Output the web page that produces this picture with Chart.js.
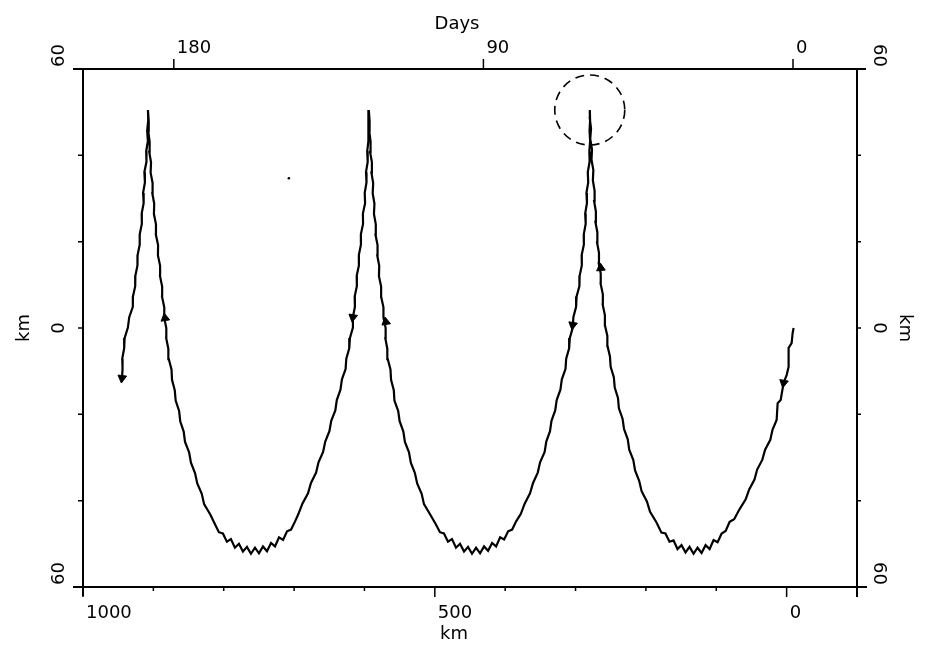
<!DOCTYPE html>
<html>
<head>
<meta charset="utf-8">
<script src="https://cdn.jsdelivr.net/npm/chart.js@4.4.1/dist/chart.umd.min.js"></script>
<style>
  html, body { margin: 0; padding: 0; background: #fff; }
</style>
</head>
<body>
<canvas id="track" width="925" height="649"></canvas>
<script>
// float track, x = km (plotted right to left), y = km
// leg A: start -> first crest
var legAX = [-9.9, -8.5, -7.1, -2.8, -2.8, 0, 4.3, 8.5, 12.8, 14.2, 20.1, 23.2, 30.6, 34.5, 41.9, 45.7, 53.2, 58.2, 67.0, 74.6,
  81, 86.7, 92.4, 98.1, 103.8, 109.5, 115.2, 120.9, 126.6, 132.3, 138, 143.7, 149.4, 155.1, 160.8, 166.5, 172.2, 177.9,
  185.1, 194.1, 198.6, 206.1, 209.6, 215.4, 217.9, 223.7, 225.8, 231.1, 233.2, 238.4, 239.7, 244.3, 245.6, 250.1, 251.1, 254.5, 254.8, 258.2,
  258.3, 261.4, 261.2, 264.3, 264.2, 267.1, 266.7, 269.4, 269.0, 271.8, 271.1, 273.6, 272.9, 275.4, 274.7, 277.3, 276.6, 279.1, 278.0, 279.8, 279.7];
var legAY = [0, -1.2, -3.5, -4.6, -9.0, -10.9, -12.7, -16.7, -17.4, -21.3, -23.6, -25.9, -28.2, -30.5, -32.8, -35.1, -37.4, -39.7, -42.0, -44.3,
  -44.9, -47.0, -47.6, -49.6, -49.1, -51.2, -50.3, -52.1, -50.9, -52.3, -50.7, -52.0, -50.3, -51.2, -49.2, -49.5, -47.6, -47.4,
  -45.0, -42.6, -40.2, -37.8, -35.4, -33.0, -30.6, -28.2, -25.8, -23.4, -21.0, -18.6, -16.2, -13.8, -11.4, -9.0, -6.6, -4.2, -1.8, 0.6,
  3.0, 5.4, 7.8, 10.2, 12.6, 15.0, 17.4, 19.8, 22.2, 24.6, 27.0, 29.4, 31.8, 34.2, 36.6, 39.0, 41.4, 43.8, 46.2, 48.6, 50.5];

// leg B: first crest -> second crest
var legBX = [279.3, 280.1, 279.3, 280.4, 280.0, 282.6, 282.0, 284.5, 283.8, 286.3, 285.6, 288.3, 288.2, 291.3, 291.1, 294.2, 294.5, 298.5, 299.2, 303.1,
  303.9, 308.1, 309.1, 313.3, 314.3, 319.5, 321.5, 326.8, 328.9, 334.2, 336.3, 341.6, 343.9, 350.4, 353.7, 360.4, 364.7, 372.3, 377.9,
  384.4, 390.1, 395.8, 401.5, 407.2, 412.9, 418.6, 424.3, 430.0, 435.7, 441.4, 447.1, 452.8, 458.5, 464.2, 469.9, 475.6, 481.3, 487.0, 492.7, 498.4,
  506.6, 515.4, 518.7, 525.1, 528.3, 534.1, 536.7, 542.5, 544.7, 550.0, 552.1, 557.4, 558.3, 562.2, 563.0, 566.9, 567.5, 570.3, 569.9, 573.0,
  573.0, 576.2, 576.3, 579.4, 579.0, 581.8, 581.4, 584.3, 583.9, 586.5, 585.8, 588.3, 587.6, 590.1, 589.4, 592.0, 591.3, 593.2, 592.7, 593.8];
var legBY = [48.1, 45.7, 43.3, 40.9, 38.5, 36.1, 33.7, 31.3, 28.9, 26.5, 24.1, 21.7, 19.3, 16.9, 14.5, 12.1, 9.7, 7.3, 4.9, 2.5,
  0.1, -2.3, -4.7, -7.1, -9.5, -11.9, -14.3, -16.7, -19.1, -21.5, -23.9, -26.3, -28.7, -31.1, -33.5, -35.9, -38.3, -40.7, -43.1,
  -44.8, -46.7, -47.1, -49.0, -48.5, -50.6, -49.8, -51.6, -50.6, -52.2, -50.9, -52.3, -50.7, -51.8, -50.0, -50.9, -48.9, -49.5, -47.6, -47.3, -45.5,
  -43.2, -40.8, -38.4, -36.0, -33.6, -31.2, -28.8, -26.4, -24.0, -21.6, -19.2, -16.8, -14.4, -12.0, -9.6, -7.2, -4.8, -2.4, 0.0, 2.4,
  4.8, 7.2, 9.6, 12.0, 14.4, 16.8, 19.2, 21.6, 24.0, 26.4, 28.8, 31.2, 33.6, 36.0, 38.4, 40.8, 43.2, 45.6, 48.0, 50.5];

// leg C: second crest -> third crest
var legCX = [593.8, 594.9, 594.5, 596.1, 595.4, 597.8, 597.1, 599.6, 599.1, 602.2, 602.0, 605.1, 605.0, 608.0, 607.9, 611.0, 610.8, 613.9, 613.6, 616.4,
  616.4, 620.6, 621.6, 625.8, 626.8, 632.0, 634.1, 639.3, 641.4, 647.2, 649.8, 655.7, 658.8, 665.3, 668.7, 676.0, 680.2, 688.2, 693.9,
  698.6, 704.3, 710.0, 715.7, 721.4, 727.1, 732.8, 738.5, 744.2, 749.9, 755.6, 761.3, 767.0, 772.7, 778.4, 784.1, 789.8, 795.5, 801.2, 806.9, 812.6,
  819.1, 827.9, 831.2, 837.6, 840.8, 846.6, 849.2, 855.0, 856.9, 861.8, 863.4, 868.3, 869.6, 873.5, 874.2, 878.1, 878.7, 881.7, 881.6, 884.6,
  884.5, 887.6, 887.5, 890.5, 890.4, 893.5, 893.3, 896.4, 896.3, 899.2, 898.8, 901.5, 901.1, 903.9, 903.3, 905.9, 905.3, 907.3, 906.6, 907.7];
var legCY = [48.1, 45.7, 43.3, 40.9, 38.5, 36.1, 33.7, 31.3, 28.9, 26.5, 24.1, 21.7, 19.3, 16.9, 14.5, 12.1, 9.7, 7.3, 4.9, 2.5,
  0.1, -2.3, -4.7, -7.1, -9.5, -11.9, -14.3, -16.7, -19.1, -21.5, -23.9, -26.3, -28.7, -31.1, -33.5, -35.9, -38.3, -40.7, -43.1,
  -44.8, -46.7, -47.1, -49.1, -48.5, -50.6, -49.8, -51.7, -50.6, -52.2, -50.9, -52.3, -50.7, -51.8, -50.0, -50.9, -48.9, -49.5, -47.6, -47.3, -45.4,
  -43.2, -40.8, -38.4, -36.0, -33.6, -31.2, -28.8, -26.4, -24.0, -21.6, -19.2, -16.8, -14.4, -12.0, -9.6, -7.2, -4.8, -2.4, 0.0, 2.4,
  4.8, 7.2, 9.6, 12.0, 14.4, 16.8, 19.2, 21.6, 24.0, 26.4, 28.8, 31.2, 33.6, 36.0, 38.4, 40.8, 43.2, 45.6, 48.0, 50.5];

// leg D: third crest -> end
var legDX = [907.3, 908.8, 907.8, 910.2, 909.8, 912.8, 912.0, 914.6, 913.8, 916.6, 916.4, 919.4, 919.4, 922.4, 922.6, 925.6, 925.8, 929.0, 929.2, 934.3,
  936.2, 940.8, 941.5, 944.2, 943.8, 944.6];
var legDY = [48.1, 45.7, 43.3, 40.9, 38.5, 36.1, 33.7, 31.3, 28.9, 26.5, 24.1, 21.7, 19.3, 16.9, 14.5, 12.1, 9.7, 7.3, 4.9, 2.5,
  0.1, -2.3, -4.7, -7.1, -9.5, -11.6];

// direction arrows along the track
var arrowX = [4.3, 264.2, 304.0, 569.6, 616.5, 883.5, 944.6];
var arrowY = [-12.7, 13.9, 0.7, 1.4, 2.5, 2.3, -11.6];
var arrowRot = [190, 355, 189, 351, 189, 351, 187];

var speckX = [707.4];
var speckY = [34.7];

// dashed ring round the first crest
var ringCentre = [279.8, 50.5];

var kmTicks = [1000, 900, 800, 700, 600, 500, 400, 300, 200, 100, 0, -100];
var kmLabels = [1000, 500, 0];
var dayLabels = [180, 90, 0];
var yTicks = [60, 40, 20, 0, -20, -40, -60];
var yLabels = [60, 0, -60];

var trackX = legAX.concat(legBX, legCX, legDX);
var trackY = legAY.concat(legBY, legCY, legDY);

function points(xs, ys) {
  return xs.map(function (x, i) { return { x: x, y: ys[i] }; });
}

var FONT = '18px "DejaVu Sans"';

var axesPlugin = {
  id: 'plotAxes',
  afterDraw: function (chart) {
    var c = chart.ctx;
    var a = chart.chartArea;
    var sx = chart.scales.x, sy = chart.scales.y, sd = chart.scales.days;
    c.save();
    c.strokeStyle = '#000';
    c.fillStyle = '#000';
    c.lineWidth = 2;
    c.beginPath();
    c.moveTo(a.left - 10, a.top); c.lineTo(a.right + 9, a.top);
    c.moveTo(a.left - 10, a.bottom); c.lineTo(a.right + 10, a.bottom);
    c.moveTo(a.left, a.top); c.lineTo(a.left, a.bottom + 9);
    c.moveTo(a.right, a.top); c.lineTo(a.right, a.bottom + 10);
    c.stroke();

    c.lineWidth = 1.5;
    c.beginPath();
    kmTicks.forEach(function (v) {
      var px = sx.getPixelForValue(v);
      var len = (kmLabels.indexOf(v) >= 0 || v === -100) ? 10 : 4;
      c.moveTo(px, a.bottom); c.lineTo(px, a.bottom + len);
    });
    dayLabels.forEach(function (v) {
      var px = sd.getPixelForValue(v);
      c.moveTo(px, a.top); c.lineTo(px, a.top - 10);
    });
    yTicks.forEach(function (v) {
      var py = sy.getPixelForValue(v);
      c.moveTo(a.left, py); c.lineTo(a.left - 5, py);
      c.moveTo(a.right, py); c.lineTo(a.right + 4, py);
    });
    c.stroke();

    c.font = FONT;
    c.textBaseline = 'alphabetic';
    c.textAlign = 'left';
    kmLabels.forEach(function (v) {
      c.fillText(String(v), sx.getPixelForValue(v) + 3, a.bottom + 31);
    });
    dayLabels.forEach(function (v) {
      c.fillText(String(v), sd.getPixelForValue(v) + 3, a.top - 16);
    });
    c.textAlign = 'center';
    c.fillText('Days', 457, 29);
    c.fillText('km', 454, 639);

    yLabels.forEach(function (v) {
      var py = sy.getPixelForValue(v);
      var mid = v === 0;
      c.save();
      c.translate(a.left - 19, mid ? py : py - 2);
      c.rotate(-Math.PI / 2);
      c.textAlign = mid ? 'center' : 'left';
      c.fillText(String(Math.abs(v)), 0, 0);
      c.restore();
      c.save();
      c.translate(a.right + 17, mid ? py : py - 2);
      c.rotate(Math.PI / 2);
      c.textAlign = mid ? 'center' : 'right';
      c.fillText(String(Math.abs(v)), 0, 0);
      c.restore();
    });
    c.save();
    c.translate(29, sy.getPixelForValue(0));
    c.rotate(-Math.PI / 2);
    c.textAlign = 'center';
    c.fillText('km', 0, 0);
    c.restore();
    c.save();
    c.translate(900, sy.getPixelForValue(0));
    c.rotate(Math.PI / 2);
    c.textAlign = 'center';
    c.fillText('km', 0, 0);
    c.restore();
    c.restore();
  }
};

var ringPlugin = {
  id: 'ring',
  afterDatasetsDraw: function (chart) {
    var c = chart.ctx;
    var px = chart.scales.x.getPixelForValue(ringCentre[0]);
    var py = chart.scales.y.getPixelForValue(ringCentre[1]);
    c.save();
    c.strokeStyle = '#000';
    c.lineWidth = 1.6;
    c.setLineDash([9, 6]);
    c.beginPath();
    c.arc(px, py, 35, 0, Math.PI * 2);
    c.stroke();
    c.restore();
  }
};

var ctx = document.getElementById('track').getContext('2d');
new Chart(ctx, {
  type: 'scatter',
  data: {
    datasets: [{
      data: points(trackX, trackY),
      showLine: true,
      borderColor: '#000',
      borderWidth: 2.2,
      pointRadius: 0,
      tension: 0
    }, {
      data: points(arrowX, arrowY),
      pointStyle: 'triangle',
      pointRadius: 5,
      rotation: arrowRot,
      backgroundColor: '#000',
      borderColor: '#000',
      borderWidth: 1
    }, {
      data: points(speckX, speckY),
      pointRadius: 1.3,
      backgroundColor: '#000',
      borderWidth: 0
    }]
  },
  options: {
    responsive: false,
    animation: false,
    layout: { padding: { left: 83, right: 68, top: 69, bottom: 62 } },
    plugins: { legend: { display: false }, tooltip: { enabled: false } },
    scales: {
      x: { type: 'linear', reverse: true, min: -100, max: 1000, display: false },
      y: { type: 'linear', min: -60, max: 60, display: false },
      days: { type: 'linear', axis: 'x', reverse: true, min: -18.6, max: 206.4, display: false }
    }
  },
  plugins: [axesPlugin, ringPlugin]
});
</script>
</body>
</html>
